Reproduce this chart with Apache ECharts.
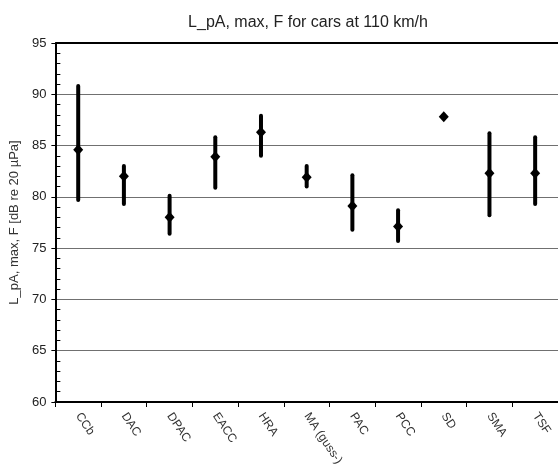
<!DOCTYPE html>
<html><head><meta charset="utf-8">
<script src="https://cdn.jsdelivr.net/npm/echarts@6/dist/echarts.min.js"></script>
<style>html,body{margin:0;padding:0;background:#fff}#c{width:558px;height:472px}</style>
</head><body><div id="c"></div>
<script>
const categories = ["CCb","DAC","DPAC","EACC","HRA","MA (guss-)","PAC","PCC","SD","SMA","TSF"];
const meanValues = [84.6, 82.0, 78.0, 83.9, 86.3, 81.9, 79.1, 77.1, 87.8, 82.3, 82.3];
const minValues  = [79.7, 79.3, 76.4, 80.9, 84.0, 81.0, 76.8, 75.7, null, 78.2, 79.3];
const maxValues  = [90.8, 83.0, 80.1, 85.8, 87.9, 83.0, 82.1, 78.7, null, 86.2, 85.8];
const yTicks = [60, 65, 70, 75, 80, 85, 90, 95];

const rangeData = categories.map((c, i) => [i, minValues[i], maxValues[i]]).filter(d => d[1] != null);

const chart = echarts.init(document.getElementById('c'), null, {renderer: 'canvas'});
chart.setOption({
  animation: false,
  backgroundColor: '#fff',
  title: {
    text: 'L_pA, max, F for cars at 110 km/h',
    left: 303, top: 10, textAlign: 'center',
    textStyle: {fontFamily: 'Liberation Sans, Arial', fontSize: 16, fontWeight: 'normal', color: '#222'}
  },
  grid: {left: 54, top: 43, width: 507, height: 359, containLabel: false},
  xAxis: {
    type: 'category', data: categories, boundaryGap: true,
    axisLine: {lineStyle: {color: '#000', width: 2}},
    axisTick: {show: true, length: 5, lineStyle: {color: '#000', width: 1}},
    axisLabel: {rotate: -56, interval: 0, margin: 12, color: '#333',
      fontFamily: 'Liberation Sans, Arial', fontSize: 12},
    splitLine: {show: false}
  },
  yAxis: {
    type: 'value', min: yTicks[0], max: yTicks[yTicks.length - 1], interval: 5,
    name: 'L_pA, max, F [dB re 20 µPa]', nameLocation: 'middle', nameGap: 31,
    nameTextStyle: {fontFamily: 'Liberation Sans, Arial', fontSize: 13, color: '#333'},
    axisLine: {show: true, lineStyle: {color: '#000', width: 2}},
    axisTick: {show: true, length: 4, lineStyle: {color: '#000', width: 1}},
    minorTick: {show: true, splitNumber: 5, length: -5, lineStyle: {color: '#000', width: 1}},
    axisLabel: {color: '#222', fontFamily: 'Liberation Sans, Arial', fontSize: 13, margin: 9},
    splitLine: {show: true, lineStyle: {color: '#707070', width: 1}}
  },
  series: [
    {
      type: 'custom',
      data: rangeData,
      renderItem: function (params, api) {
        const lo = api.coord([api.value(0), api.value(1)]);
        const hi = api.coord([api.value(0), api.value(2)]);
        return {type: 'line', shape: {x1: lo[0], y1: lo[1], x2: hi[0], y2: hi[1]},
          style: {stroke: '#000', lineWidth: 4, lineCap: 'round'}};
      },
      z: 3
    },
    {
      type: 'scatter', data: meanValues, symbol: 'diamond', symbolSize: [10, 11],
      itemStyle: {color: '#000', opacity: 1}, z: 4
    },
    {
      type: 'line', data: [], markLine: {
        silent: true, symbol: 'none', label: {show: false},
        lineStyle: {color: '#000', width: 2, type: 'solid'},
        data: [{yAxis: yTicks[yTicks.length - 1]}]
      }
    }
  ]
});
</script></body></html>
